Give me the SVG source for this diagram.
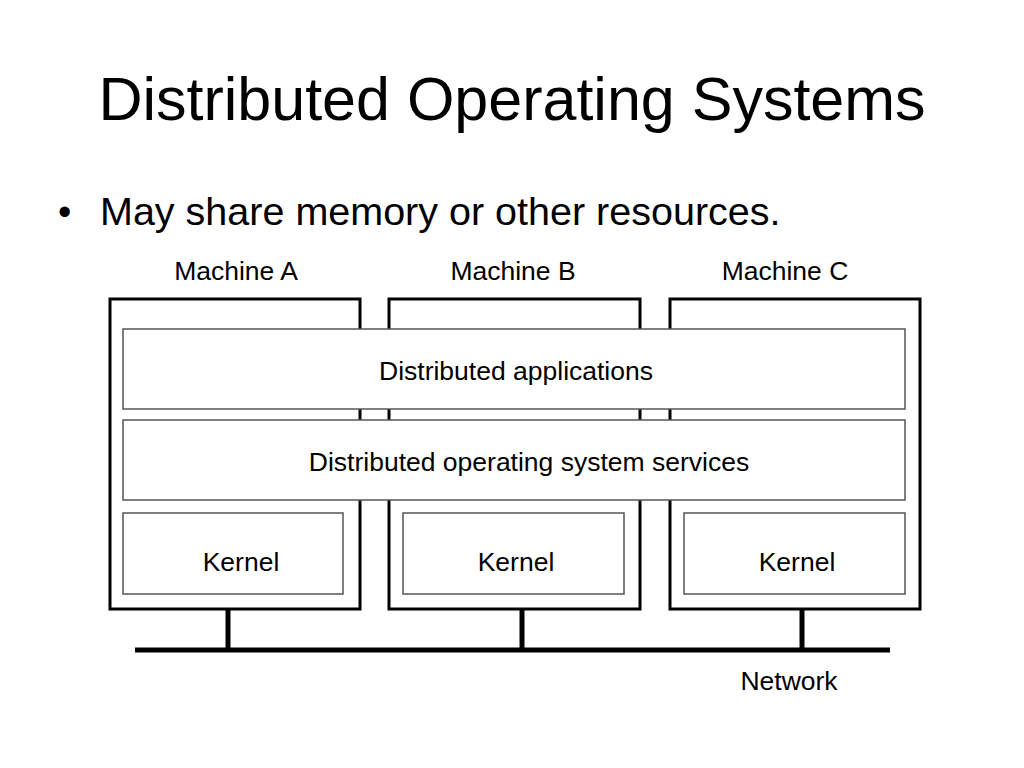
<svg xmlns="http://www.w3.org/2000/svg" width="1024" height="768" viewBox="0 0 1024 768">
<style>
text{font-family:"Liberation Sans",Arial,sans-serif;fill:#000}
.m{fill:#fff;stroke:#000;stroke-width:3}
.l{fill:#fff;stroke:#555;stroke-width:1.5}
.t{font-size:26.5px;text-anchor:middle}
</style>
<rect width="1024" height="768" fill="#fff"/>
<text x="512" y="120" font-size="61" text-anchor="middle">Distributed Operating Systems</text>
<text x="58" y="225" font-size="38">•</text>
<text x="100" y="225" font-size="39.5">May share memory or other resources.</text>
<g id="machineA"><rect class="m" x="110" y="299" width="250" height="310"/><text class="t" x="236" y="280">Machine A</text></g>
<g id="machineB"><rect class="m" x="389" y="299" width="251" height="310"/><text class="t" x="513" y="280">Machine B</text></g>
<g id="machineC"><rect class="m" x="670" y="299" width="250" height="310"/><text class="t" x="785" y="280">Machine C</text></g>
<g id="apps"><rect class="l" x="123" y="329" width="782" height="80"/><text class="t" x="516" y="380">Distributed applications</text></g>
<g id="services"><rect class="l" x="123" y="420" width="782" height="80"/><text class="t" x="529" y="471">Distributed operating system services</text></g>
<g id="kernelA"><rect class="l" x="123" y="513" width="220" height="81"/><text class="t" x="241" y="571">Kernel</text></g>
<g id="kernelB"><rect class="l" x="403" y="513" width="221" height="81"/><text class="t" x="516" y="571">Kernel</text></g>
<g id="kernelC"><rect class="l" x="684" y="513" width="221" height="81"/><text class="t" x="797" y="571">Kernel</text></g>
<g id="connectors" stroke="#000" stroke-width="5">
<line x1="228" y1="609" x2="228" y2="650"/>
<line x1="522" y1="609" x2="522" y2="650"/>
<line x1="802" y1="609" x2="802" y2="650"/>
<line x1="135" y1="650" x2="890" y2="650"/>
</g>
<text class="t" x="789" y="690">Network</text>
</svg>
